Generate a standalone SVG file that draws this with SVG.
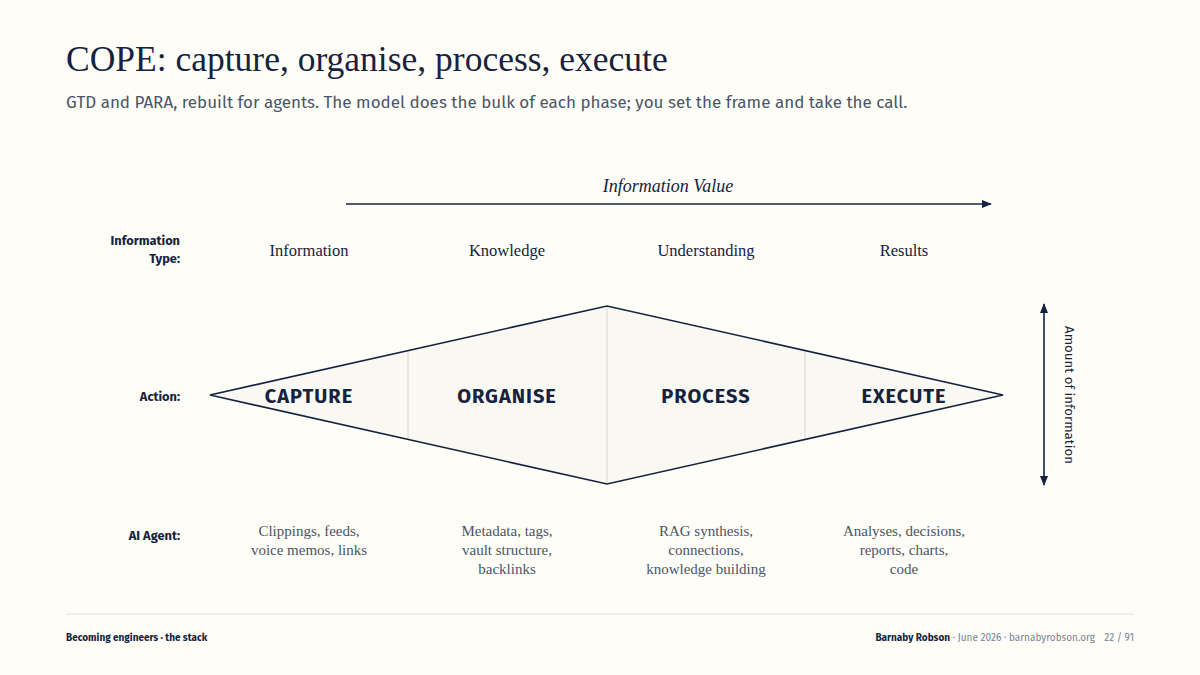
<svg xmlns="http://www.w3.org/2000/svg" width="1200" height="675" viewBox="0 0 1200 675">
<defs>
<style>
.serif{font-family:"Liberation Serif","DejaVu Serif",serif;fill:#15233f}
.sans{font-family:"Fira Sans","Noto Sans","Liberation Sans",sans-serif}
.lbl{font-family:"Fira Sans","Noto Sans","Liberation Sans",sans-serif;font-weight:700;font-size:12.8px;fill:#15233f;text-anchor:end}
.type{font-family:"Liberation Serif",serif;font-size:16.5px;fill:#15233f;text-anchor:middle}
.act{font-family:"Fira Sans","Noto Sans","Liberation Sans",sans-serif;font-weight:700;font-size:20px;letter-spacing:1px;fill:#15233f;text-anchor:middle}
.agent{font-family:"Liberation Serif",serif;font-size:15px;fill:#4a5568;text-anchor:middle}
.seg{fill:#f9f8f3;stroke:none}
.div{stroke:#dedcd6;stroke-width:1.2}
</style>
<marker id="ah" viewBox="0 0 10 10" refX="9" refY="5" markerWidth="10" markerHeight="8" markerUnits="userSpaceOnUse" orient="auto-start-reverse" preserveAspectRatio="none">
<path d="M0,0 L10,5 L0,10 z" fill="#15233f"/>
</marker>
</defs>
<rect width="1200" height="675" fill="#fefdf7"/>
<text x="66" y="71" class="serif" font-size="35.5">COPE: capture, organise, process, execute</text>
<text x="66" y="108" class="sans" font-size="17" fill="#4a5568">GTD and PARA, rebuilt for agents. The model does the bulk of each phase; you set the frame and take the call.</text>

<g id="value-axis">
<text x="668" y="192" class="serif" font-size="18" font-style="italic" text-anchor="middle">Information Value</text>
</g>

<g id="row-labels">
<text class="lbl" x="180" y="245">Information</text>
<text class="lbl" x="180" y="263">Type:</text>
<text class="lbl" x="180" y="401">Action:</text>
<text class="lbl" x="180" y="540">AI Agent:</text>
</g>

<g id="types">
<text class="type" x="309" y="256">Information</text>
<text class="type" x="507" y="256">Knowledge</text>
<text class="type" x="706" y="256">Understanding</text>
<text class="type" x="904" y="256">Results</text>
</g>

<g id="diamond">
<path class="seg" d="M210,395 L607,306 L1003,395 L607,484 Z"/>
<line class="div" x1="408" y1="351" x2="408" y2="439"/>
<line class="div" x1="607" y1="306" x2="607" y2="484"/>
<line class="div" x1="805" y1="351" x2="805" y2="439"/>
<path d="M210,395 L607,306 L1003,395 L607,484 Z" fill="none" stroke="#15233f" stroke-width="1.6" stroke-linejoin="miter"/>
</g>
<g id="capture"><text class="act" x="309" y="403">CAPTURE</text></g>
<g id="organise"><text class="act" x="507" y="403">ORGANISE</text></g>
<g id="process"><text class="act" x="706" y="403">PROCESS</text></g>
<g id="execute"><text class="act" x="904" y="403">EXECUTE</text></g>

<g id="agents">
<text class="agent" x="309" y="536">Clippings, feeds,</text>
<text class="agent" x="309" y="555">voice memos, links</text>
<text class="agent" x="507" y="536">Metadata, tags,</text>
<text class="agent" x="507" y="555">vault structure,</text>
<text class="agent" x="507" y="574">backlinks</text>
<text class="agent" x="706" y="536">RAG synthesis,</text>
<text class="agent" x="706" y="555">connections,</text>
<text class="agent" x="706" y="574">knowledge building</text>
<text class="agent" x="904" y="536">Analyses, decisions,</text>
<text class="agent" x="904" y="555">reports, charts,</text>
<text class="agent" x="904" y="574">code</text>
</g>

<g id="connectors">
<line x1="346" y1="204" x2="991" y2="204" stroke="#15233f" stroke-width="1.6" marker-end="url(#ah)"/>
<line x1="1044" y1="304" x2="1044" y2="485" stroke="#15233f" stroke-width="1.6" marker-start="url(#ah)" marker-end="url(#ah)"/>
</g>
<g id="amount-label">
<text transform="translate(1065,395) rotate(90)" class="sans" font-size="13.3" fill="#15233f" text-anchor="middle">Amount of information</text>
</g>

<g id="footer">
<line x1="66" y1="614" x2="1134" y2="614" stroke="#e4e2dc" stroke-width="1"/>
<text x="66" y="641" class="sans" font-size="10" font-weight="700" fill="#15233f">Becoming engineers · the stack</text>
<text x="1095" y="641" class="sans" font-size="10" fill="#7a8190" text-anchor="end"><tspan font-weight="700" fill="#15233f">Barnaby Robson</tspan> · June 2026 · barnabyrobson.org</text>
<text x="1134" y="641" class="sans" font-size="10" fill="#7a8190" text-anchor="end">22 / 91</text>
</g>
</svg>
